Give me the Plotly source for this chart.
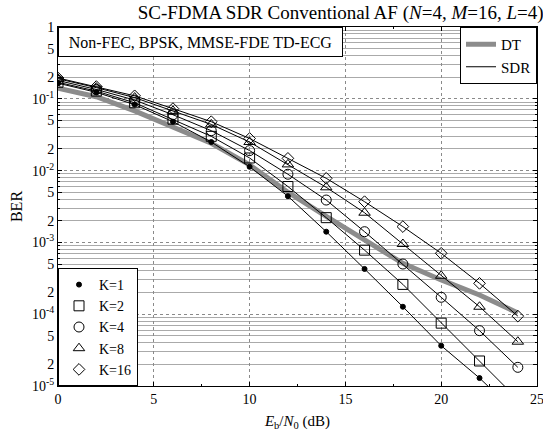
import plotly.graph_objects as go

# ---------------- data ----------------
snr_db = [0, 2, 4, 6, 8, 10, 12, 14, 16, 18, 20, 22, 24]

ber_dt = [0.14, 0.107, 0.068, 0.040, 0.024, 0.012, 0.0050, 0.0023, 0.0011,
          5.1e-4, 3.0e-4, 1.85e-4, 1.04e-4]

ber_k1 = [0.165, 0.123, 0.083, 0.048, 0.025, 0.0113, 0.0044, 0.00141, 4.27e-4,
          1.27e-4, 3.64e-5, 1.29e-5, 4.0e-6]
ber_k2 = [0.170, 0.128, 0.088, 0.052, 0.030, 0.0150, 0.0060, 0.00221, 7.8e-4,
          2.6e-4, 7.5e-5, 2.23e-5, 6.5e-6]
ber_k4 = [0.180, 0.135, 0.096, 0.060, 0.036, 0.0190, 0.0089, 0.00389, 1.41e-3,
          5.0e-4, 1.72e-4, 5.9e-5, 1.82e-5]
ber_k8 = [0.190, 0.143, 0.104, 0.068, 0.044, 0.0250, 0.0122, 0.00585, 2.59e-3,
          9.5e-4, 3.43e-4, 1.27e-4, 4.14e-5]
ber_k16 = [0.195, 0.148, 0.110, 0.073, 0.048, 0.0280, 0.0148, 0.00781, 3.69e-3,
           1.66e-3, 7.05e-4, 2.69e-4, 9.4e-5]

k_labels = ["K=1", "K=2", "K=4", "K=8", "K=16"]
k_series = [ber_k1, ber_k2, ber_k4, ber_k8, ber_k16]
k_symbols = ["circle", "square-open", "circle-open", "triangle-up-open", "diamond-open"]
k_sizes = [5, 10, 10, 10, 9]

x_tick_vals = [0, 5, 10, 15, 20, 25]
y_tick_vals = [1, 0.5, 0.2, 1e-1, 5e-2, 2e-2, 1e-2, 5e-3, 2e-3, 1e-3,
               5e-4, 2e-4, 1e-4, 5e-5, 2e-5, 1e-5]
y_tick_text = ["1", "5", "2", "10<sup>-1</sup>", "5", "2", "10<sup>-2</sup>", "5", "2",
               "10<sup>-3</sup>", "5", "2", "10<sup>-4</sup>", "5", "2", "10<sup>-5</sup>"]
decades = [1, 1e-1, 1e-2, 1e-3, 1e-4, 1e-5]
minor_vals = [m * d for d in decades[1:] for m in range(2, 10)]

FONT = "Liberation Serif"
GRID_MINOR = "#aaaaaa"
GRID_DOT = "#8a8a8a"

fig = go.Figure()

# DT curve (thick grey)
fig.add_trace(go.Scatter(x=snr_db, y=ber_dt, mode="lines", name="DT",
                         line=dict(color="#8c8c8c", width=5), legend="legend"))
# SDR legend entry
fig.add_trace(go.Scatter(x=[None], y=[None], mode="lines", name="SDR",
                         line=dict(color="black", width=1), legend="legend"))

# K curves
for lab, ser, sym, sz in zip(k_labels, k_series, k_symbols, k_sizes):
    fig.add_trace(go.Scatter(x=snr_db, y=ser, mode="lines+markers", name=lab,
                             showlegend=False,
                             line=dict(color="black", width=1),
                             marker=dict(symbol=sym, size=sz, color="black",
                                         line=dict(color="black", width=1)),
                             cliponaxis=True))
# K legend entries (markers only)
for lab, sym, sz in zip(k_labels, k_symbols, k_sizes):
    fig.add_trace(go.Scatter(x=[None], y=[None], mode="markers", name=lab,
                             marker=dict(symbol=sym, size=sz, color="black",
                                         line=dict(color="black", width=1)),
                             legend="legend2"))

# helper trace for overlay axis (decade dotted grid)
fig.add_trace(go.Scatter(x=[None], y=[None], yaxis="y2", showlegend=False,
                         hoverinfo="skip"))

fig.update_layout(
    width=543, height=432,
    margin=dict(l=58, r=6, t=27, b=46, autoexpand=False),
    paper_bgcolor="white", plot_bgcolor="white",
    font=dict(family=FONT, size=15, color="black"),
    title=dict(text="SC-FDMA SDR Conventional AF (<i>N</i>=4, <i>M</i>=16, <i>L</i>=4)",
               x=0.59, xref="paper", xanchor="center",
               y=1 - 12.5 / 432, yref="container", yanchor="middle",
               font=dict(family=FONT, size=19)),
    xaxis=dict(range=[0, 25], tickvals=x_tick_vals, automargin=False,
               showline=True, linecolor="black", linewidth=1, mirror="ticks",
               ticks="inside", ticklen=4, tickcolor="black",
               showgrid=True, gridcolor=GRID_DOT, griddash="dot", gridwidth=1,
               zeroline=False, ticklabeloverflow="allow",
               minor=dict(dtick=2.5, ticks="inside", ticklen=2, tickcolor="black",
                          showgrid=False),
               tickfont=dict(family=FONT, size=14),
               title=dict(text="<i>E</i><sub>b</sub>/<i>N</i><sub>0</sub> (dB)",
                          font=dict(family=FONT, size=15), standoff=9)),
    yaxis=dict(type="log", range=[-5, 0], tickvals=y_tick_vals, ticktext=y_tick_text,
               automargin=False,
               showline=True, linecolor="black", linewidth=1, mirror="ticks",
               ticks="inside", ticklen=4, tickcolor="black",
               showgrid=False, zeroline=False, ticklabeloverflow="allow",
               minor=dict(tickvals=minor_vals, ticks="inside", ticklen=2,
                          tickcolor="black", showgrid=True, gridcolor=GRID_MINOR,
                          gridwidth=1),
               tickfont=dict(family=FONT, size=14),
               title=dict(text="BER", font=dict(family=FONT, size=16), standoff=5)),
    yaxis2=dict(type="log", range=[-5, 0], overlaying="y", side="left",
                tickvals=decades, showticklabels=False, ticks="", automargin=False,
                showgrid=True, gridcolor=GRID_DOT, griddash="dot", gridwidth=1,
                showline=False, zeroline=False),
    legend=dict(x=1, xanchor="right", y=1, yanchor="top",
                bordercolor="black", borderwidth=1, bgcolor="white",
                font=dict(family=FONT, size=15), tracegroupgap=0),
    legend2=dict(x=0, xanchor="left", y=0, yanchor="bottom",
                 bordercolor="black", borderwidth=1, bgcolor="white",
                 font=dict(family=FONT, size=14), tracegroupgap=0),
    annotations=[dict(text="Non-FEC, BPSK, MMSE-FDE TD-ECG",
                      xref="paper", yref="paper", x=0, y=1,
                      xanchor="left", yanchor="top", showarrow=False,
                      bordercolor="black", borderwidth=1, borderpad=4,
                      bgcolor="white", width=275, height=20,
                      font=dict(family=FONT, size=16))],
)

fig.write_html("out.html")
